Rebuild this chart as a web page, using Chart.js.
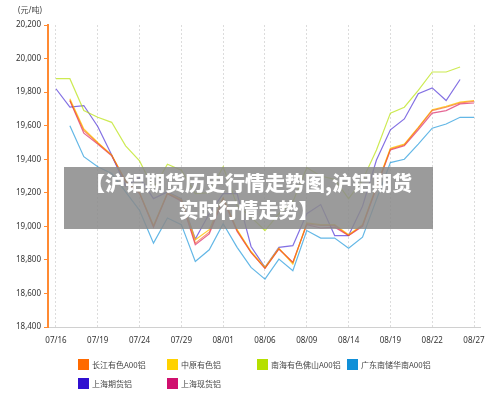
<!DOCTYPE html>
<html>
<head>
<meta charset="utf-8">
<script src="https://cdn.jsdelivr.net/npm/chart.js@4/dist/chart.umd.min.js"></script>
<style>
  html, body { margin: 0; padding: 0; background: #fff; }
  #wrap { position: relative; width: 500px; height: 397px; overflow: hidden; }
  #unit { position: absolute; left: 18px; top: 4px; font: 8px "Noto Sans", "Noto Sans CJK SC", sans-serif; color: #444; }
  #overlay { position: absolute; left: 64px; top: 167px; width: 369px; height: 62px;
             background: rgba(138,138,138,0.86); color: #fff; text-align: center;
             font: 900 20px "Noto Sans CJK SC", sans-serif; line-height: 27px; padding-top: 2px; box-sizing: border-box; }
  .lg { position: absolute; font: 8px "Noto Sans CJK SC", sans-serif; color: #444; white-space: nowrap; }
  .lg span.sw { position: absolute; left: 0; top: 0; width: 11px; height: 11px; box-sizing: border-box; }
  .lg span.tx { position: absolute; left: 14px; top: -1px; line-height: 13px; }
</style>
</head>
<body>
<div id="wrap">
  <canvas id="c" width="500" height="397"></canvas>
  <div id="unit">(元/吨)</div>
  <div id="overlay">【沪铝期货历史行情走势图,沪铝期货<br>实时行情走势】</div>
  <div id="legend"></div>
</div>
<script>
const categories = ['07/16','07/17','07/18','07/19','07/22','07/23','07/24','07/25','07/26','07/29','07/30','07/31','08/01','08/02','08/05','08/06','08/07','08/08','08/09','08/12','08/13','08/14','08/15','08/16','08/19','08/20','08/21','08/22','08/23','08/26','08/27'];

const seriesNames = ['长江有色A00铝','中原有色铝','南海有色佛山A00铝','广东南储华南A00铝','上海期货铝','上海现货铝'];

const changjiang = [null,19750,19570,19495,19425,19270,19200,19000,19195,19155,18900,18965,19165,18975,18845,18750,18865,18785,19015,19005,19005,18945,19005,19235,19460,19485,19585,19690,19710,19735,19745];
const zhongyuan  = [null,19760,19580,19500,19425,19270,19200,19005,19200,19160,18920,18980,19170,18980,18850,18755,18870,18775,19020,19010,19010,18950,19010,19240,19465,19490,19590,19695,19715,19740,19750];
const nanhaiFoshan = [19880,19880,19690,19650,19620,19480,19390,19225,19370,19335,19195,19200,19355,19125,19055,18975,19075,19145,19350,19300,19280,19165,19275,19455,19675,19710,19810,19920,19920,19950,null];
const guangdong  = [null,19600,19415,19355,19315,19205,19095,18900,19050,19010,18790,18860,19015,18875,18755,18685,18805,18735,18975,18930,18930,18870,18935,19160,19380,19400,19490,19585,19610,19650,19650];
const shfe       = [19820,19710,19720,19595,19425,19240,19290,19165,19205,19165,18925,19075,19195,19195,18880,18755,18875,18885,19075,19130,18945,18945,19120,19395,19575,19640,19790,19825,19750,19875,null];
const shSpot     = [null,19750,19555,19490,19420,19265,19195,18995,19195,19150,18890,18955,19160,18970,18845,18750,18865,18785,19010,18990,18995,18945,19000,19230,19455,19480,19575,19675,19690,19730,19735];

const yTicks = [18400,18600,18800,19000,19200,19400,19600,19800,20000,20200];

const legendColors = ['#ff6a00','#ffd200','#b5e000','#1090d8','#3010d0','#d0106e'];
const lineColors = ['rgba(245,80,20,0.6)','rgba(255,195,0,0.8)','rgba(181,224,0,0.68)','rgba(16,144,216,0.65)','rgba(48,16,208,0.6)','rgba(215,20,90,0.65)'];
const allSeries = [changjiang, zhongyuan, nanhaiFoshan, guangdong, shfe, shSpot];

const datasets = allSeries.map((arr, k) => ({
  label: seriesNames[k],
  data: arr.map((v, i) => ({ x: i, y: v })),
  borderColor: lineColors[k],
  backgroundColor: lineColors[k],
  borderWidth: 1.2,
  pointRadius: 0,
  tension: 0,
  fill: false
}));

new Chart(document.getElementById('c'), {
  type: 'line',
  data: { datasets },
  options: {
    responsive: false,
    animation: false,
    devicePixelRatio: 1,
    layout: { padding: { left: 0, top: 25, right: 20, bottom: 50 } },
    plugins: { legend: { display: false }, tooltip: { enabled: false } },
    scales: {
      x: {
        type: 'linear',
        min: -0.57,
        max: 30.43,
        afterBuildTicks: (axis) => {
          axis.ticks = categories.map((c, i) => ({ value: i })).filter(t => t.value % 3 === 0);
        },
        afterFit: (s) => { s.height = 20; },
        ticks: {
          autoSkip: false,
          maxRotation: 0,
          padding: 9,
          color: '#333',
          font: { family: '"Noto Sans", sans-serif', size: 8 },
          callback: (v) => categories[v] !== undefined ? categories[v] : ''
        },
        grid: { color: '#dcdcdc', lineWidth: 1, drawTicks: false },
        border: { color: '#d0d0d0', width: 1, dash: [2, 2] }
      },
      y: {
        min: 18400,
        max: 20200,
        afterBuildTicks: (axis) => { axis.ticks = yTicks.map(v => ({ value: v })); },
        afterFit: (s) => { s.width = 48; },
        ticks: {
          padding: 3,
          color: '#333',
          font: { family: '"Noto Sans", sans-serif', size: 8 },
          callback: (v) => v.toLocaleString('en-US')
        },
        grid: { drawOnChartArea: false, drawTicks: true, tickLength: 4, color: '#ff8a33' },
        border: { color: '#ff8a33', width: 2 }
      }
    }
  }
});

// legend (HTML, two rows of four columns)
const lg = document.getElementById('legend');
const colX = [78, 167, 257, 347];
const rowY = [359, 378];
seriesNames.forEach((name, k) => {
  const d = document.createElement('div');
  d.className = 'lg';
  d.style.left = colX[k % 4] + 'px';
  d.style.top = rowY[Math.floor(k / 4)] + 'px';
  const sw = document.createElement('span');
  sw.className = 'sw';
  sw.style.background = legendColors[k];
  sw.style.border = '1px solid ' + legendColors[k] + '99';
  const tx = document.createElement('span');
  tx.className = 'tx';
  tx.textContent = name;
  d.appendChild(sw); d.appendChild(tx);
  lg.appendChild(d);
});
</script>
</body>
</html>
